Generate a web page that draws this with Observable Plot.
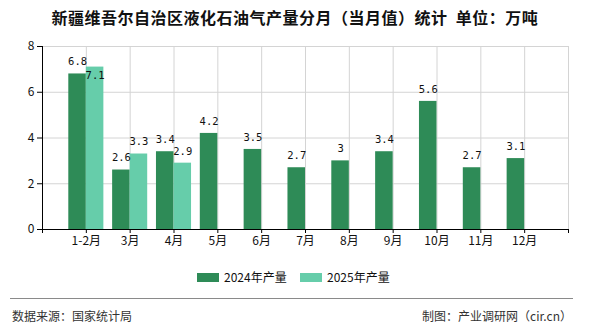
<!DOCTYPE html>
<html>
<head>
<meta charset="utf-8">
<script src="https://cdn.jsdelivr.net/npm/d3@7"></script>
<script src="https://cdn.jsdelivr.net/npm/@observablehq/plot@0.6"></script>
<style>
  html, body { margin: 0; padding: 0; background: #fff; }
  #wrap { position: relative; width: 590px; height: 330px; overflow: hidden; font-family: "Noto Sans CJK SC", sans-serif; }
  #title { position: absolute; top: 6px; left: 0; width: 590px; text-align: center; font-size: 16px; font-weight: bold; letter-spacing: 0.5px; color: #111; line-height: 22px; white-space: pre; }
  #chart { position: absolute; top: 0; left: 0; }
  #legend { position: absolute; top: 267px; left: 0; width: 590px; height: 20px; }
  .lg { position: absolute; top: 0; display: flex; align-items: center; font-size: 12px; color: #111; line-height: 20px; }
  .sw { width: 22px; height: 9px; margin-right: 5px; }
  #rule { position: absolute; top: 298px; left: 10px; width: 563px; height: 0; border-top: 1px solid #8a8a8a; }
  .foot { position: absolute; top: 307px; font-size: 12px; color: #333; line-height: 18px; }
</style>
</head>
<body>
<div id="wrap">
  <div id="chart"></div>
  <div id="title"></div>
  <div id="legend"></div>
  <div id="rule"></div>
  <div class="foot" id="src" style="left:12px;"></div>
  <div class="foot" id="maker" style="right:18px;"></div>
</div>
<script>
const titleText = "新疆维吾尔自治区液化石油气产量分月（当月值）统计  单位：万吨";
const months = ["1-2月","3月","4月","5月","6月","7月","8月","9月","10月","11月","12月"];
const v2024 = [6.8, 2.6, 3.4, 4.2, 3.5, 2.7, 3, 3.4, 5.6, 2.7, 3.1];
const v2025 = [7.1, 3.3, 2.9];
const seriesNames = ["2024年产量", "2025年产量"];
const seriesColors = ["#2e8b57", "#66cdaa"];
const yTicks = [0, 2, 4, 6, 8];
const sourceText = "数据来源：国家统计局";
const makerText = "制图：产业调研网（cir.cn）";

document.getElementById("title").textContent = titleText;
document.getElementById("src").textContent = sourceText;
document.getElementById("maker").textContent = makerText;

const barW = 0.4;
const rows = [];
v2024.forEach((v, k) => rows.push({pos: k + 1, value: v, series: seriesNames[0], x1: k + 1 - barW, x2: k + 1, label: String(v)}));
v2025.forEach((v, k) => rows.push({pos: k + 1, value: v, series: seriesNames[1], x1: k + 1, x2: k + 1 + barW, label: String(v)}));
rows.forEach(r => r.xc = (r.x1 + r.x2) / 2);

const normalLabels = rows.filter(r => !(r.series === seriesNames[1] && r.pos === 1));
const shiftedLabels = rows.filter(r => r.series === seriesNames[1] && r.pos === 1);

const n = months.length + 1;
const gridCol = "#d4d4d4";

const chart = Plot.plot({
  width: 590,
  height: 250,
  marginTop: 46,
  marginBottom: 21,
  marginLeft: 42,
  marginRight: 22,
  style: {fontFamily: "'Noto Sans CJK SC', sans-serif", fontSize: "12px", color: "#111", background: "transparent"},
  x: {domain: [0, n], label: null},
  y: {domain: [0, 8], label: null},
  color: {domain: seriesNames, range: seriesColors},
  marks: [
    Plot.gridY(yTicks.filter(d => d > 0), {stroke: gridCol, strokeOpacity: 1}),
    Plot.gridX(d3.range(1, n + 1), {stroke: gridCol, strokeOpacity: 1}),
    Plot.rectY(rows, {x1: "x1", x2: "x2", y: "value", fill: "series", inset: 0}),
    Plot.axisX(d3.range(0, n + 1), {tickSize: 4, tickPadding: 3, tickFormat: i => months[i - 1] ?? "", stroke: "#000", fill: "#111", fontSize: 12}),
    Plot.axisY(yTicks, {tickSize: 5, tickPadding: 3, stroke: "#000", fill: "#111", fontSize: 12}),
    Plot.ruleY([0], {stroke: "#000"}),
    Plot.ruleX([0], {stroke: "#000"}),
    Plot.text(normalLabels, {x: "xc", y: "value", text: "label", dy: -12, fontFamily: "'DejaVu Sans Mono', monospace", fontSize: 10.5, fill: "#111"}),
    Plot.text(shiftedLabels, {x: "xc", y: "value", text: "label", dy: 9, fontFamily: "'DejaVu Sans Mono', monospace", fontSize: 10.5, fill: "#111"})
  ]
});
document.getElementById("chart").appendChild(chart);

const legend = document.getElementById("legend");
const lefts = [197, 300];
seriesNames.forEach((s, k) => {
  const item = document.createElement("div");
  item.className = "lg";
  item.style.left = lefts[k] + "px";
  const sw = document.createElement("div");
  sw.className = "sw";
  sw.style.background = seriesColors[k];
  const t = document.createElement("span");
  t.textContent = s;
  item.appendChild(sw);
  item.appendChild(t);
  legend.appendChild(item);
});
</script>
</body>
</html>
